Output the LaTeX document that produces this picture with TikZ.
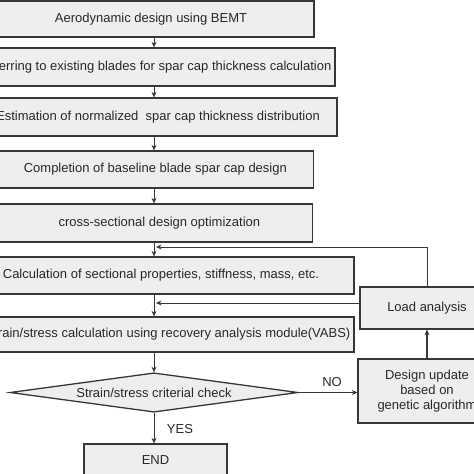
\documentclass[tikz,border=0pt]{standalone}
\usepackage{fontspec}
\setmainfont{Liberation Sans}
\usetikzlibrary{shapes.geometric,arrows.meta}
\definecolor{boxfill}{RGB}{238,238,238}
\definecolor{boxline}{RGB}{55,55,55}
\definecolor{txt}{RGB}{40,40,40}
\begin{document}
\begin{tikzpicture}[x=1pt,y=-1pt,>={Stealth[length=5.5pt,width=5pt]},
  every node/.style={font=\fontsize{13}{15}\selectfont,text=txt},
  stepbox/.style={draw=boxline,line width=1.3pt,fill=boxfill,minimum height=37pt,inner xsep=1pt},
  check/.style={draw=boxline,line width=1.3pt,fill=boxfill,diamond,aspect=5.2,minimum width=288pt,inner sep=0pt},
  flow/.style={draw=boxline,line width=0.9pt,->}]
\path[use as bounding box,clip] (0,0) rectangle (474,474);
\coordinate (spine) at (154,0);
\node[stepbox,minimum width=326pt,minimum height=36pt] (s1) at (151,19) {Aerodynamic design using BEMT};
\node[stepbox,minimum width=360pt,minimum height=38pt] (s2) at (155,67) {Referring to existing blades for spar cap thickness calculation};
\node[stepbox,minimum width=358pt,minimum height=38pt] (s3) at (158,117) {Estimation of normalized\ \ spar cap thickness distribution};
\node[stepbox,minimum width=330pt,anchor=east] (s4) at (314,169.5) {\hspace*{14pt}Completion of baseline blade spar cap design};
\node[stepbox,minimum width=330pt,minimum height=38pt,anchor=east] (s5) at (313,223) {\hspace*{24pt}cross-sectional design optimization};
\node[stepbox,minimum width=386pt] (s6) at (161,275.5) {Calculation of sectional properties, stiffness, mass, etc.};
\node[stepbox,minimum width=372pt,minimum height=35pt] (s7) at (168,334.5) {Strain/stress calculation using recovery analysis module(VABS)};
\node[check] (chk) at (154,392.5) {Strain/stress criterial check};
\node[stepbox,minimum width=143pt,minimum height=32pt] (end) at (155.5,460) {END};
\node[stepbox,minimum width=134pt,minimum height=42pt] (load) at (427,308) {Load analysis};
\node[stepbox,minimum width=138pt,minimum height=64pt,align=center] (upd) at (427,391) {Design update\\based on\\genetic algorithm};
\node (no) at (332,382) {NO};
\node (yes) at (180,429) {YES};
\coordinate (fb1) at (156,247);
\coordinate (fb2) at (156,303);
\draw[flow] (s1.south -| spine) -- (s2.north -| spine);
\draw[flow] (s2.south -| spine) -- (s3.north -| spine);
\draw[flow] (s3.south -| spine) -- (s4.north -| spine);
\draw[flow] (s4.south -| spine) -- (s5.north -| spine);
\draw[flow] (s5.south -| spine) -- (s6.north -| spine);
\draw[flow] (s6.south -| spine) -- (s7.north -| spine);
\draw[flow] (s7.south -| spine) -- (chk.north);
\draw[flow] (chk.south) -- (chk.south |- end.north);
\draw[flow] (chk.east) -- (chk.east -| upd.west);
\draw[flow,line width=1.6pt] (upd.north) -- (load.south);
\draw[flow] (load.north) |- (fb1);
\draw[flow] (load.west |- fb2) -- (fb2);
\end{tikzpicture}
\end{document}
